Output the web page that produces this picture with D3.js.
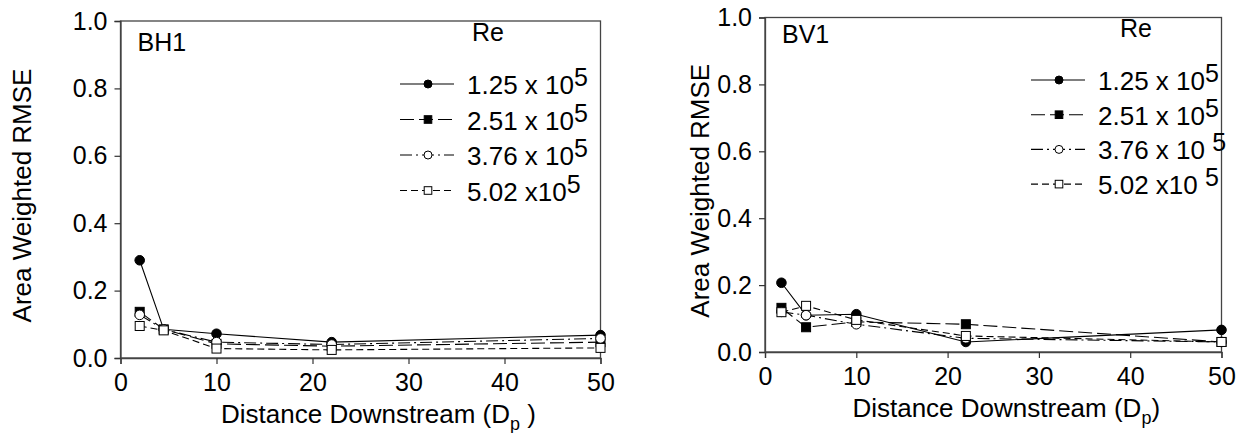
<!DOCTYPE html>
<html>
<head>
<meta charset="utf-8">
<script src="https://cdn.jsdelivr.net/npm/d3@7/dist/d3.min.js"></script>
<style>
  html, body { margin: 0; padding: 0; background: #fff; }
  svg text { font-family: "Liberation Sans", Arial, sans-serif; fill: #000; }
</style>
</head>
<body>
<svg id="chart" width="1249" height="433"></svg>
<script>
// Downstream stations (pipe diameters) for each probe set
const distBH1 = [2, 4.5, 10, 22, 50];
const distBV1 = [1.8, 4.5, 10, 22, 50];

// Reynolds numbers (mantissa of x 10^5)
const reMantissa = ["1.25", "2.51", "3.76", "5.02"];

// Area weighted RMSE, BH1 probes
const bh1Re125 = [0.29, 0.085, 0.072, 0.047, 0.068];
const bh1Re251 = [0.137, 0.085, 0.042, 0.035, 0.047];
const bh1Re376 = [0.128, 0.085, 0.047, 0.040, 0.058];
const bh1Re502 = [0.095, 0.082, 0.028, 0.024, 0.030];

// Area weighted RMSE, BV1 probes
const bv1Re125 = [0.207, 0.11, 0.113, 0.030, 0.066];
const bv1Re251 = [0.132, 0.074, 0.090, 0.083, 0.030];
const bv1Re376 = [0.120, 0.110, 0.083, 0.041, 0.030];
const bv1Re502 = [0.119, 0.138, 0.096, 0.048, 0.030];

const xTicks = [0, 10, 20, 30, 40, 50];
const yTicks = [0.0, 0.2, 0.4, 0.6, 0.8, 1.0];

// Line and marker style per Reynolds number
const styles = [
  { dash: null,           marker: "circle", fill: "#000" },
  { dash: "14,5",         marker: "square", fill: "#000" },
  { dash: "12,4,2,4",     marker: "circle", fill: "#fff" },
  { dash: "7,4",          marker: "square", fill: "#fff" }
];

const panels = [
  { name: "BH1", dist: distBH1, series: [bh1Re125, bh1Re251, bh1Re376, bh1Re502],
    left: 120.5, right: 600.5, top: 21, bottom: 358,
    yTitleX: 31, legX: 400, legY: 84, legStep: 35.5, reX: 472, reY: 41, nameY: 51,
    xTitle: "left", supGap: [false, false, false, false] },
  { name: "BV1", dist: distBV1, series: [bv1Re125, bv1Re251, bv1Re376, bv1Re502],
    left: 765, right: 1221.5, top: 17.5, bottom: 352,
    yTitleX: 709, legX: 1031, legY: 80, legStep: 34.7, reX: 1120, reY: 37, nameY: 43,
    xTitle: "right", supGap: [false, false, true, true] }
];

const svg = d3.select("#chart");

function drawMarker(g, type, cx, cy, size, fill) {
  if (type === "circle") {
    g.append("circle").attr("cx", cx).attr("cy", cy).attr("r", size)
      .attr("fill", fill).attr("stroke", "#000").attr("stroke-width", 1);
  } else {
    g.append("rect").attr("x", cx - size).attr("y", cy - size)
      .attr("width", size * 2).attr("height", size * 2)
      .attr("fill", fill).attr("stroke", "#000").attr("stroke-width", 1);
  }
}

panels.forEach(p => {
  const g = svg.append("g");
  const x = d3.scaleLinear().domain([0, 50]).range([p.left, p.right]);
  const y = d3.scaleLinear().domain([0, 1]).range([p.bottom, p.top]);

  // Frame
  g.append("rect")
    .attr("x", p.left).attr("y", p.top)
    .attr("width", p.right - p.left).attr("height", p.bottom - p.top)
    .attr("fill", "none").attr("stroke", "#444").attr("stroke-width", 1.3);

  // Axes
  const xAxis = g.append("g").attr("transform", `translate(0,${p.bottom})`)
    .call(d3.axisBottom(x).tickValues(xTicks).tickSize(6).tickPadding(9).tickFormat(d3.format("d")));
  const yAxis = g.append("g").attr("transform", `translate(${p.left},0)`)
    .call(d3.axisLeft(y).tickValues(yTicks).tickSize(6).tickPadding(7).tickFormat(d3.format(".1f")));
  [xAxis, yAxis].forEach(a => {
    a.select(".domain").attr("stroke", "#444").attr("stroke-width", 1.3);
    a.selectAll(".tick line").attr("stroke", "#333").attr("stroke-width", 1.2);
    a.selectAll(".tick text").attr("font-size", 25).attr("fill", "#000")
      .style("font-family", "'Liberation Sans', Arial, sans-serif");
  });

  // Axis titles
  g.append("text")
    .attr("transform", `translate(${p.yTitleX},${(p.top + p.bottom) / 2 + 6}) rotate(-90)`)
    .attr("text-anchor", "middle").attr("font-size", 26)
    .text("Area Weighted RMSE");

  const xt = g.append("text")
    .attr("x", (p.left + p.right) / 2 + (p.xTitle === "left" ? 18 : 13))
    .attr("y", p.bottom + 65)
    .attr("text-anchor", "middle").attr("font-size", 26);
  xt.append("tspan").text("Distance Downstream (D");
  xt.append("tspan").attr("font-size", 18).attr("dy", 7).text("p");
  xt.append("tspan").attr("dy", -7).text(p.xTitle === "left" ? " )" : ")");

  // Panel label and legend header
  g.append("text").attr("x", p.left + 17).attr("y", p.nameY).attr("font-size", 25).text(p.name);
  g.append("text").attr("x", p.reX).attr("y", p.reY).attr("font-size", 25).text("Re");

  // Series lines and markers
  p.series.forEach((vals, i) => {
    const st = styles[i];
    const pts = vals.map((v, j) => [p.dist[j], v]);
    const line = d3.line().x(d => x(d[0])).y(d => y(d[1]));
    g.append("path").datum(pts).attr("d", line)
      .attr("fill", "none").attr("stroke", "#000").attr("stroke-width", 1.1)
      .attr("stroke-dasharray", st.dash);
    const mg = g.append("g");
    pts.forEach(d => drawMarker(mg, st.marker, x(d[0]), y(d[1]), st.marker === "circle" ? 4.8 : 4.5, st.fill));
  });

  // Legend
  reMantissa.forEach((m, i) => {
    const st = styles[i];
    const ly = p.legY + i * p.legStep;
    const lg = g.append("g");
    lg.append("line").attr("x1", p.legX).attr("x2", p.legX + 54)
      .attr("y1", ly).attr("y2", ly)
      .attr("stroke", "#000").attr("stroke-width", 1.1)
      .attr("stroke-dasharray", st.dash);
    drawMarker(lg, st.marker, p.legX + 28, ly, st.marker === "circle" ? 4 : 3.8, st.fill);
    const t = lg.append("text").attr("x", p.legX + 67).attr("y", ly + 10).attr("font-size", 26);
    const times = (i === 3) ? " x10" : " x 10";
    t.append("tspan").text(m + times + (p.supGap[i] ? " " : ""));
    t.append("tspan").attr("dy", -8).attr("font-size", 25).text("5");
  });
});
</script>
</body>
</html>
